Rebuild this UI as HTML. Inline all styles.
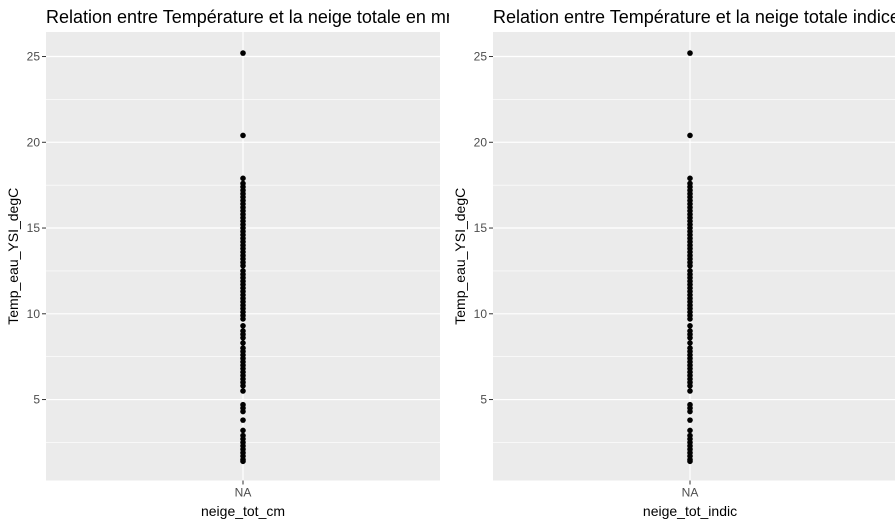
<!DOCTYPE html>
<html><head><meta charset="utf-8"><style>
body{margin:0;background:#fff;width:895px;height:526px;overflow:hidden;font-family:"Liberation Sans",sans-serif}
</style></head><body>
<svg id="chart" width="895" height="526">
<defs><clipPath id="leftclip"><rect x="0" y="0" width="449" height="30"/></clipPath></defs>
</svg>
<script>
const temps = [25.2,20.4,17.9,17.6,17.4,17.2,17.0,16.8,16.6,16.4,16.2,16.0,15.8,15.6,15.4,15.2,15.0,14.8,14.6,14.4,14.2,14.0,13.8,13.6,13.4,13.2,13.0,12.8,12.5,12.3,12.1,11.9,11.7,11.5,11.3,11.1,10.9,10.7,10.5,10.3,10.1,9.9,9.7,9.3,9.0,8.8,8.6,8.3,8.0,7.8,7.6,7.4,7.2,7.0,6.8,6.6,6.4,6.2,6.0,5.8,5.5,4.7,4.5,4.3,3.8,3.2,2.9,2.7,2.5,2.3,2.1,1.9,1.7,1.5,1.4];
const yTicks = [5,10,15,20,25];
const panels = [
 {title:"Relation entre Température et la neige totale en mm", xlab:"neige_tot_cm", x0:46, x1:440, name:"cm", clip:true},
 {title:"Relation entre Température et la neige totale indice", xlab:"neige_tot_indic", x0:493, x1:895, name:"indic", cx:690}
];
const catLabel = "NA";
const svgEl = document.getElementById('chart');
const NS = "http://www.w3.org/2000/svg";
const plotTop=32, plotBot=480.5, vMin=0.28, vMax=26.43;
const yScale = v => plotBot - (v - vMin)/(vMax - vMin)*(plotBot-plotTop);
function mk(tag, attrs, parent){const e=document.createElementNS(NS,tag);for(const k in attrs)e.setAttribute(k,attrs[k]);(parent||svgEl).appendChild(e);return e;}
panels.forEach(p=>{
  const g = mk('g',{});
  
  
  const bg = mk('rect',{x:p.x0,y:plotTop,width:p.x1-p.x0,height:plotBot-plotTop,fill:'#ebebeb'},g);
  
  
  const cx = p.cx || (p.x0+p.x1)/2;
  for(let i=0;i<yTicks.length+1;i++){
    const mv = yTicks[0]-2.5+i*5;
    mk('line',{x1:p.x0,x2:p.x1,y1:yScale(mv),y2:yScale(mv),stroke:'#fff','stroke-width':0.6},g);
  }
  yTicks.forEach(t=>{
    const l = mk('line',{x1:p.x0,x2:p.x1,y1:yScale(t),y2:yScale(t),stroke:'#fff','stroke-width':1.2},g);
    
    
    mk('line',{x1:p.x0-4,x2:p.x0,y1:yScale(t),y2:yScale(t),stroke:'#333','stroke-width':1},g);
    const tx = mk('text',{x:p.x0-6,y:yScale(t)+4,'text-anchor':'end','font-size':12,fill:'#4d4d4d'},g);
    tx.textContent=t;
    
    
  });
  mk('line',{x1:cx,x2:cx,y1:plotTop,y2:plotBot,stroke:'#fff','stroke-width':1.2},g);
  mk('line',{x1:cx,x2:cx,y1:plotBot,y2:plotBot+4,stroke:'#333','stroke-width':1},g);
  const xl = mk('text',{x:cx,y:plotBot+16,'text-anchor':'middle','font-size':12,fill:'#4d4d4d'},g);
  xl.textContent=catLabel;
  
  
  temps.forEach(v=>{
    const c = mk('circle',{cx:cx,cy:yScale(v),r:2.8,fill:'#000'},g);
    
    
  });
  const xt = mk('text',{x:cx,y:516,'text-anchor':'middle','font-size':14,fill:'#000'},g);
  xt.textContent=p.xlab;
  
  
  const yt = mk('text',{x:0,y:0,'text-anchor':'middle','font-size':14,fill:'#000',transform:`translate(${p.x0-28},${(plotTop+plotBot)/2}) rotate(-90)`},g);
  yt.textContent='Temp_eau_YSI_degC';
  
  
  const ti = mk('text',{x:p.x0,y:23,'font-size':18,fill:'#000'},g);
  if(p.clip) ti.setAttribute('clip-path','url(#leftclip)');
  ti.textContent=p.title;
  
  
});
</script>
</body></html>
